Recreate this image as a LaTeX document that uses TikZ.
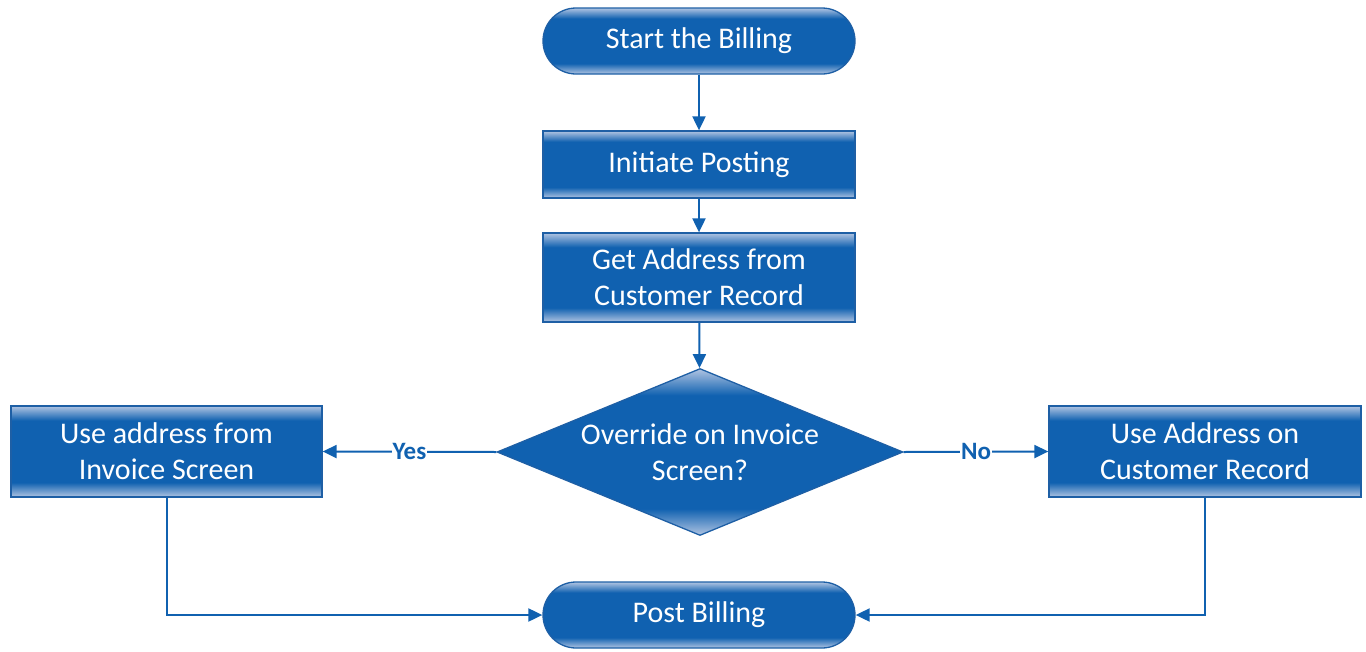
\documentclass[tikz,border=0pt]{standalone}
\usepackage{fontspec}
\setmainfont{Carlito}
\usetikzlibrary{shapes.geometric,arrows.meta}
\definecolor{mainb}{RGB}{16,97,176}
\definecolor{lightb}{RGB}{176,196,226}
\definecolor{edgeb}{RGB}{30,95,165}
\pgfdeclareverticalshading{edgeblue}{100bp}{color(0bp)=(lightb); color(25bp)=(lightb); color(33bp)=(mainb); color(67bp)=(mainb); color(75bp)=(lightb); color(100bp)=(lightb)}
\tikzset{
  base/.style={draw=edgeb, line width=1.3pt, shading=edgeblue, text=white, align=center, inner sep=0pt,
    font=\fontsize{30}{36}\selectfont},
  procbox/.style={base, rectangle, minimum width=312pt},
  pill/.style={base, rectangle, rounded corners=33pt, minimum width=312pt, minimum height=66pt},
  decision/.style={base, diamond, minimum width=406pt, minimum height=167pt, aspect=2.43},
  conn/.style={draw=mainb, line width=2pt, -{Triangle[length=14pt,width=13pt]}},
  lbl/.style={fill=white, text=mainb, font=\fontsize{25}{28}\selectfont\bfseries, inner sep=1pt}
}
\begin{document}
\begin{tikzpicture}[x=1pt,y=-1pt]
\useasboundingbox (0,0) rectangle (1366,651);
\node[pill] (start) at (699,41) {Start the Billing};
\node[procbox, minimum height=67pt] (init) at (699,164.5) {Initiate Posting};
\node[procbox, minimum height=89pt] (get) at (699,277.5) {Get Address from\\Customer Record};
\node[decision] (dec) at (700,452) {Override on Invoice\\Screen?};
\node[procbox, minimum width=311pt, minimum height=91pt] (left) at (166.5,451.5) {Use address from\\Invoice Screen};
\node[procbox, minimum width=312pt, minimum height=91pt] (right) at (1205,451.5) {Use Address on\\Customer Record};
\node[pill] (post) at (699,615) {Post Billing};
\draw[conn] (start) -- (init);
\draw[conn] (init) -- (get);
\draw[conn] (get) -- (dec);
\draw[conn] (dec.west) -- node[lbl, pos=0.5] {Yes} (left.east);
\draw[conn] (dec.east) -- node[lbl, pos=0.5] {No} (right.west);
\draw[conn] (left.south) |- (post.west);
\draw[conn] (right.south) |- (post.east);
\end{tikzpicture}
\end{document}
